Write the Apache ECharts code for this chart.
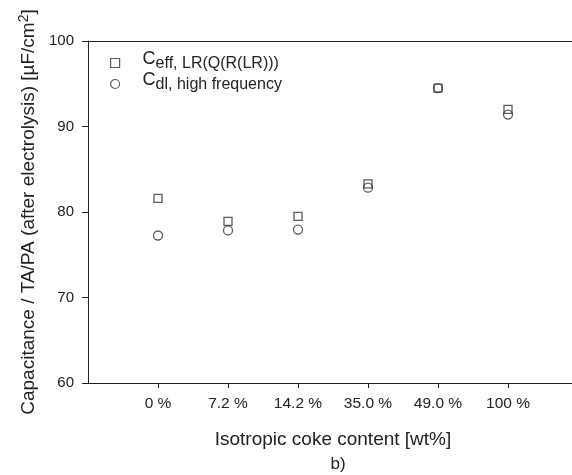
<!DOCTYPE html>
<html><head><meta charset="utf-8">
<script src="https://cdn.jsdelivr.net/npm/echarts@6/dist/echarts.min.js"></script>
<style>html,body{margin:0;padding:0;background:#fff}#c{width:572px;height:475px}</style>
</head><body><div id="c"></div>
<script>
var categories = ['0 %', '7.2 %', '14.2 %', '35.0 %', '49.0 %', '100 %'];
var ceffValues = [81.6, 78.9, 79.5, 83.3, 94.5, 92.0];
var cdlValues = [77.25, 77.85, 77.95, 82.85, 94.5, 91.4];
var yTicks = [60, 70, 80, 90, 100];

var axisCats = [''].concat(categories).concat(['']);
function pts(vals){ return vals.map(function(v,i){ return [i+1, v]; }); }
var FONT = 'Liberation Sans, Arial, sans-serif';
var chart = echarts.init(document.getElementById('c'));
chart.setOption({
  backgroundColor: '#fff',
  animation: false,
  textStyle: {fontFamily: FONT},
  grid: {left: 88, top: 41, right: -6, bottom: 92, outerBoundsMode: 'none', containLabel: false},
  title: {text: 'b)', left: 333, top: 451, textAlign: 'center',
    textStyle: {fontFamily: FONT, fontSize: 17, fontWeight: 'normal', color: '#222'}},
  legend: {
    left: 105, top: 45, orient: 'vertical', itemGap: -1, itemWidth: 9, itemHeight: 9,
    textStyle: {fontFamily: FONT, color: '#222',
      rich: {g: {width: 18},
             c: {fontSize: 18, lineHeight: 18, color: '#222', verticalAlign: 'bottom', padding:[0,0,4,0]},
             s: {fontSize: 16, lineHeight: 16, color: '#222', verticalAlign: 'bottom'}}},
    formatter: function(n){
      if (n === 'ceff') return '{g|}{c|C}{s|eff, LR(Q(R(LR)))}';
      return '{g|}{c|C}{s|dl, high frequency}';
    },
    data: [
      {name: 'ceff', icon: 'rect', itemStyle: {color: 'transparent', borderColor: '#333', borderWidth: 1.2}},
      {name: 'cdl', icon: 'circle', itemStyle: {color: 'transparent', borderColor: '#333', borderWidth: 1.2}}
    ]
  },
  xAxis: [{
    type: 'category', data: axisCats, boundaryGap: false,
    name: 'Isotropic coke content [wt%]', nameLocation: 'middle', nameGap: 47,
    nameTextStyle: {fontFamily: FONT, fontSize: 19, color: '#222'},
    axisLine: {lineStyle: {color: '#222', width: 1}},
    axisTick: {show: true, length: 5, inside: false, lineStyle: {color: '#222'},
      interval: function(i){ return i > 0 && i < axisCats.length - 1; }},
    axisLabel: {interval: 0, fontFamily: FONT, fontSize: 15.5, color: '#222', margin: 13},
    splitLine: {show: false}
  }, {
    type: 'category', data: axisCats, boundaryGap: false, position: 'top',
    axisLine: {lineStyle: {color: '#222', width: 1}},
    axisTick: {show: false}, axisLabel: {show: false}, splitLine: {show: false}
  }],
  yAxis: {
    type: 'value', min: 60, max: 100, interval: 10,
    name: 'Capacitance / TA/PA (after electrolysis) [µF/cm{sup|2}]',
    nameLocation: 'middle', nameGap: 48, nameRotate: 90,
    nameTextStyle: {fontFamily: FONT, fontSize: 19, color: '#222',
      rich: {sup: {fontSize: 14, verticalAlign: 'top', padding: [0,0,8,0], color: '#222'}}},
    axisLine: {show: true, lineStyle: {color: '#222', width: 1}},
    axisTick: {show: true, length: 6, inside: false, lineStyle: {color: '#222'}},
    axisLabel: {fontFamily: FONT, fontSize: 15, color: '#222', margin: 14,
      formatter: function(v){ return yTicks.indexOf(v) >= 0 ? String(v) : ''; }},
    splitLine: {show: false}
  },
  series: [
    {name: 'ceff', type: 'scatter', symbol: 'rect', symbolSize: 8, data: pts(ceffValues),
      itemStyle: {color: 'transparent', borderColor: '#333', borderWidth: 1.3}},
    {name: 'cdl', type: 'scatter', symbol: 'circle', symbolSize: 9, data: pts(cdlValues),
      itemStyle: {color: 'transparent', borderColor: '#333', borderWidth: 1.3}}
  ]
});
</script></body></html>
